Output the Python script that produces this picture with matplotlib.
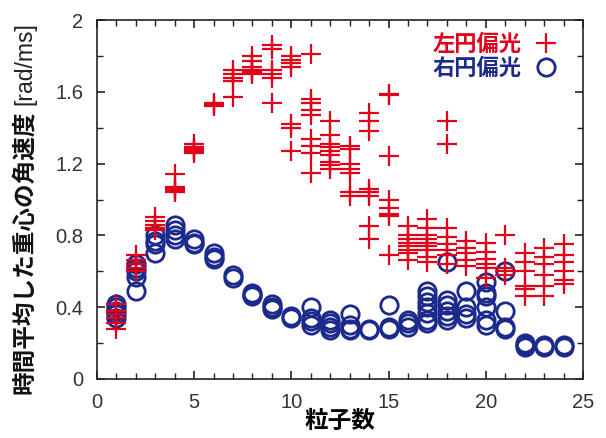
import matplotlib.pyplot as plt
from matplotlib.ticker import MultipleLocator, FuncFormatter

plt.rcParams['font.family'] = ['Liberation Sans', 'Noto Sans CJK JP', 'DejaVu Sans']

# 左円偏光 (red +), values per particle count
left_n = list(range(1, 25))
left_vals = [
    [0.42, 0.38, 0.36, 0.34, 0.31, 0.28],
    [0.69, 0.66, 0.64, 0.62, 0.60],
    [0.90, 0.88, 0.86, 0.84, 0.83],
    [1.14, 1.07, 1.06, 1.05, 1.04],
    [1.31, 1.29, 1.28, 1.27, 1.26],
    [1.54, 1.53, 1.52],
    [1.72, 1.70, 1.68, 1.66, 1.57],
    [1.80, 1.77, 1.74, 1.72, 1.71, 1.70],
    [1.86, 1.84, 1.72, 1.70, 1.68, 1.54],
    [1.80, 1.78, 1.76, 1.74, 1.42, 1.40, 1.27],
    [1.81, 1.56, 1.54, 1.50, 1.47, 1.34, 1.30, 1.26, 1.15],
    [1.44, 1.36, 1.31, 1.29, 1.27, 1.25, 1.21, 1.19, 1.17],
    [1.30, 1.28, 1.20, 1.17, 1.15, 1.04, 1.02],
    [1.48, 1.44, 1.38, 1.06, 1.04, 1.02, 0.85, 0.78],
    [1.59, 1.58, 1.24, 1.00, 0.95, 0.92, 0.91, 0.69],
    [0.85, 0.80, 0.78, 0.76, 0.74, 0.72, 0.70, 0.66],
    [0.89, 0.84, 0.80, 0.78, 0.76, 0.74, 0.72, 0.68, 0.65],
    [1.44, 1.31, 0.84, 0.79, 0.75, 0.72, 0.69, 0.64],
    [0.77, 0.73, 0.70, 0.66, 0.63],
    [0.76, 0.71, 0.67, 0.64, 0.62, 0.56],
    [0.80, 0.62, 0.60, 0.58],
    [0.70, 0.65, 0.60, 0.52, 0.50, 0.46],
    [0.73, 0.68, 0.64, 0.58, 0.52, 0.46],
    [0.75, 0.69, 0.65, 0.60, 0.55, 0.53],
]

# 右円偏光 (blue o)
right_n = list(range(1, 25))
right_vals = [
    [0.42, 0.40, 0.38, 0.36, 0.34],
    [0.64, 0.62, 0.60, 0.57, 0.49],
    [0.80, 0.77, 0.75, 0.70],
    [0.86, 0.83, 0.80, 0.78],
    [0.78, 0.76, 0.75],
    [0.70, 0.68, 0.67],
    [0.58, 0.56],
    [0.48, 0.47, 0.46],
    [0.42, 0.40, 0.39],
    [0.35, 0.34],
    [0.40, 0.34, 0.32, 0.30],
    [0.33, 0.31, 0.29, 0.27],
    [0.36, 0.30, 0.28, 0.27],
    [0.28, 0.27],
    [0.41, 0.29, 0.28],
    [0.33, 0.31, 0.29],
    [0.49, 0.46, 0.43, 0.40, 0.37, 0.33, 0.31],
    [0.65, 0.44, 0.41, 0.38, 0.35, 0.33],
    [0.49, 0.40, 0.36, 0.34],
    [0.54, 0.48, 0.46, 0.40, 0.33, 0.30],
    [0.60, 0.38, 0.29, 0.28],
    [0.20, 0.19, 0.18],
    [0.19, 0.18],
    [0.19, 0.18],
]

red = '#e3001b'
blue = '#1b2a8c'

lx = [n for n, vs in zip(left_n, left_vals) for v in vs]
ly = [v for vs in left_vals for v in vs]
rx = [n for n, vs in zip(right_n, right_vals) for v in vs]
ry = [v for vs in right_vals for v in vs]

fig = plt.figure(figsize=(6.06, 4.38), dpi=100)
ax = fig.add_axes([0.160, 0.135, 0.802, 0.819])

ax.plot(rx, ry, 'o', ms=12.5, mfc='none', mec=blue, mew=2.0, ls='none', label='右円偏光')
ax.plot(lx, ly, '+', ms=14, mec=red, mew=1.6, ls='none', label='左円偏光')

ax.set_xlim(0, 25)
ax.set_ylim(0, 2)
ax.xaxis.set_major_locator(MultipleLocator(5))
ax.xaxis.set_minor_locator(MultipleLocator(1))
ax.yaxis.set_major_locator(MultipleLocator(0.4))
ax.yaxis.set_minor_locator(MultipleLocator(0.2))
ax.yaxis.set_major_formatter(FuncFormatter(lambda v, p: '%g' % round(v, 1)))
ax.tick_params(which='both', direction='in', top=True, right=True, labelsize=14.5,
               colors='#222222', labelcolor='#333333')
ax.tick_params(which='major', length=6, width=1.2, pad=10)
ax.tick_params(which='minor', length=4, width=1.0)
for s in ax.spines.values():
    s.set_linewidth(1.2)
    s.set_color('#222222')

ax.set_xlabel('粒子数', fontsize=17, fontweight='bold', family=['Noto Sans CJK JP'], labelpad=-2)

# y label: bold Japanese part, regular unit part
jp = fig.text(0.040, 1 - 394 / 438, '時間平均した重心の角速度', rotation=90, ha='center', va='bottom',
              fontsize=17, fontweight='bold', family=['Noto Sans CJK JP'], color='#111111')
fig.canvas.draw()
bb = jp.get_window_extent().transformed(fig.transFigure.inverted())
fig.text(0.041, bb.y1 + 0.012, '[rad/ms]', rotation=90, ha='center', va='bottom',
         fontsize=16.5, color='#222222')

h, l = ax.get_legend_handles_labels()
leg = ax.legend(h[::-1], l[::-1], loc='upper right', markerfirst=False, frameon=False,
                prop={'family': ['Noto Sans CJK JP'], 'size': 16, 'weight': 'bold'},
                handlelength=1.0, handletextpad=0.6, labelspacing=0.05, borderaxespad=0.0,
                bbox_to_anchor=(0.965, 0.99))
for t, c in zip(leg.get_texts(), [red, blue]):
    t.set_color(c)

fig.savefig('out.png', dpi=100)
